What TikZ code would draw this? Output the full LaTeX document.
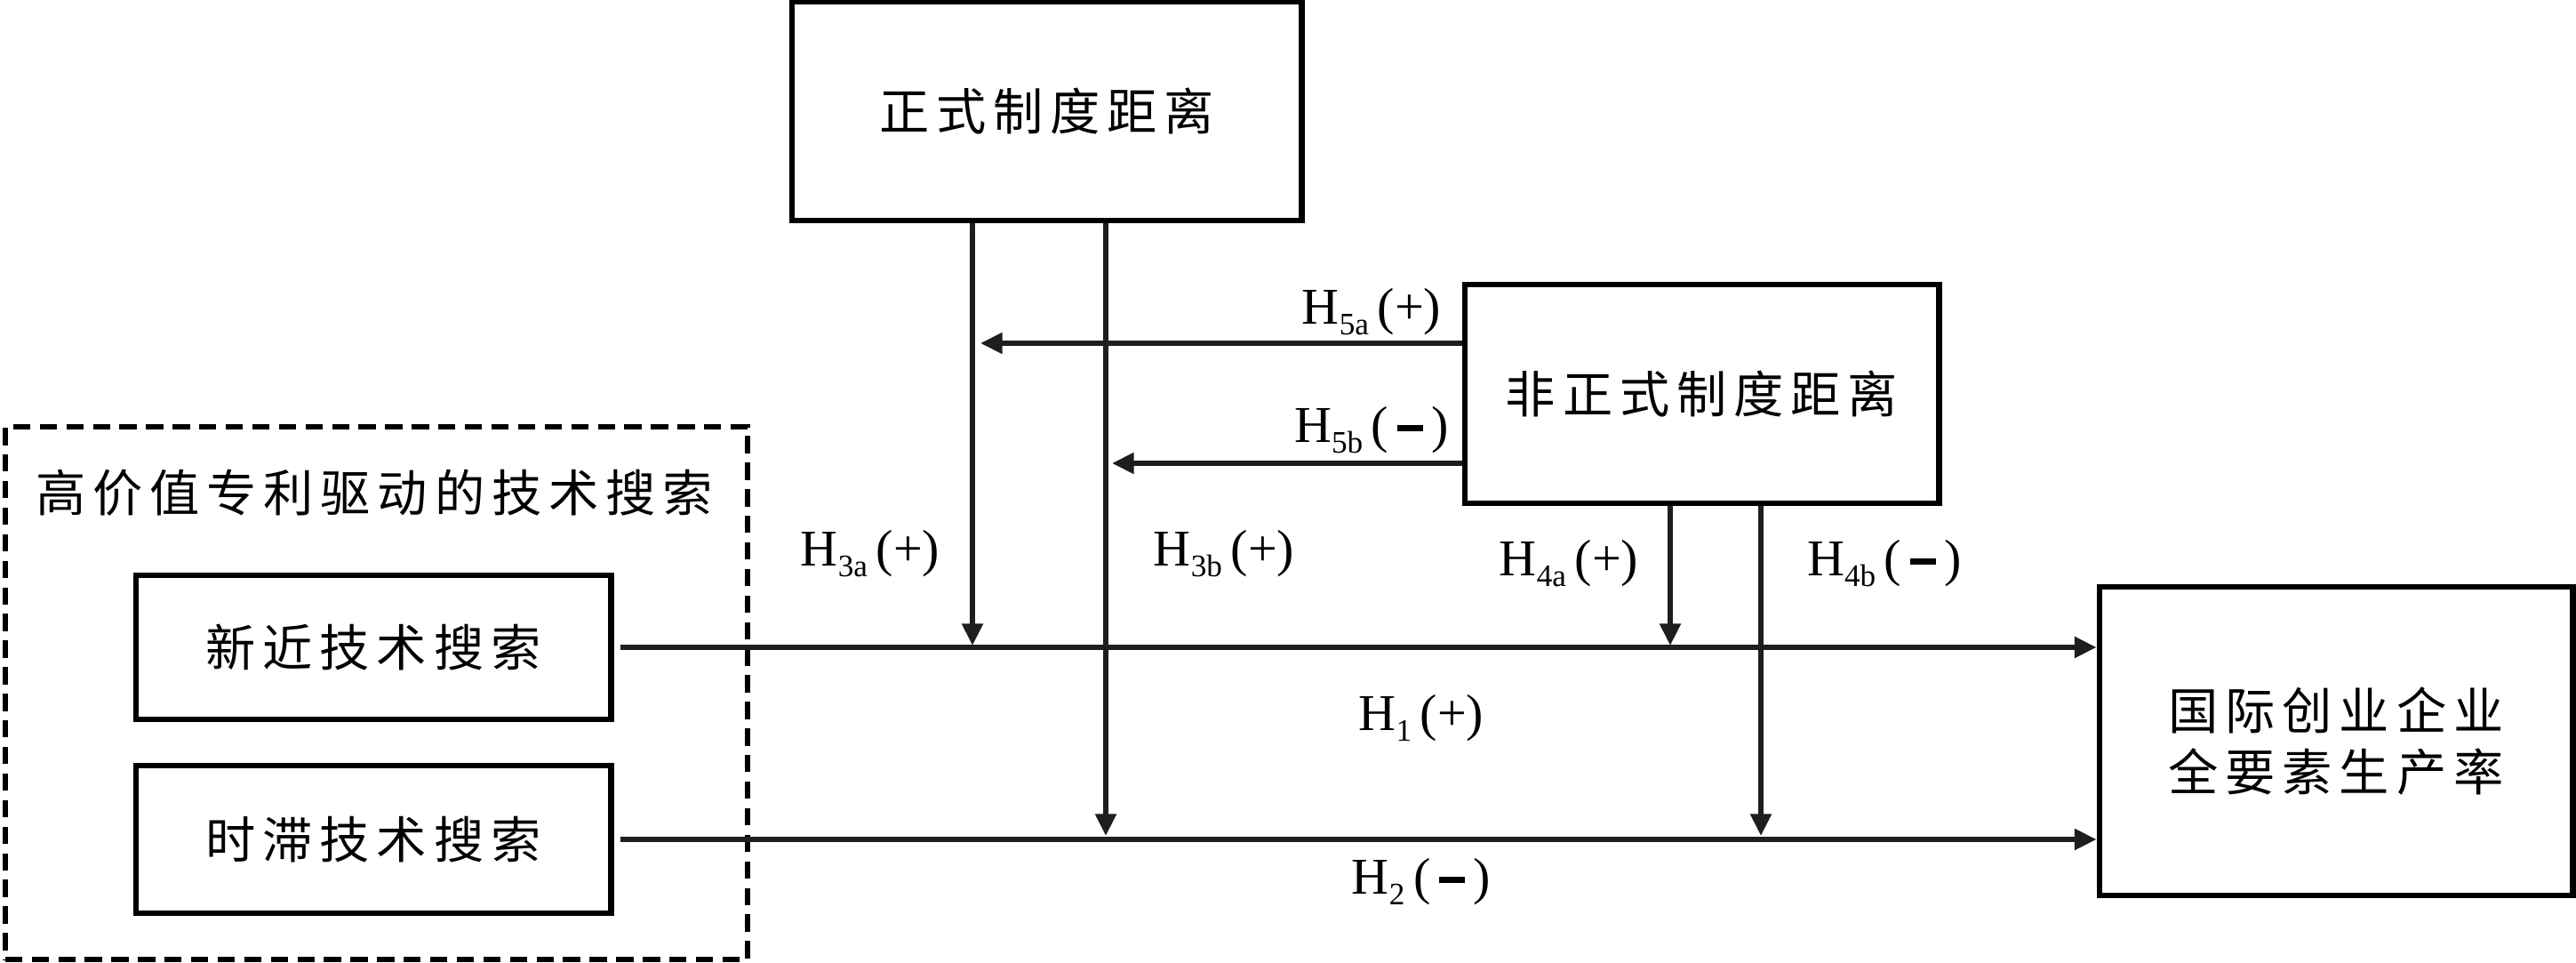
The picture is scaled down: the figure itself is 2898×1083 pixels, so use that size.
\documentclass[tikz,border=0pt]{standalone}
\usepackage{fontspec}
\setmainfont{Liberation Serif}
\newfontfamily\cjk[LetterSpace=14]{Noto Sans CJK SC}
\usetikzlibrary{arrows.meta}
\newcommand\hsub[1]{\raisebox{-0.45ex}{\fontsize{10}{10}\selectfont #1}}
\newcommand\hminus{\,\rule[0.23em]{0.5em}{0.11em}\,}
\begin{document}
\begin{tikzpicture}[x=0.01cm,y=-0.01cm,
  box/.style={draw=black,line width=1.9pt,inner sep=0pt,align=center,
    font=\cjk\fontsize{16}{19.4}\selectfont},
  arr/.style={line width=1.6pt,draw={rgb,255:red,30;green,30;blue,30},
    -{Triangle[length=7pt,width=6.5pt]}},
  lab/.style={inner sep=0pt,font=\fontsize{16.5}{19}\selectfont}]
\useasboundingbox (0,0) rectangle (2898,1083);
\fill[white] (0,0) rectangle (2898,1083);
% group
\node[draw,line width=1.7pt,dash pattern=on 5.5pt off 3pt,minimum width=8.35cm,minimum height=5.99cm] (group) at (423.5,779.5) {};
\node[inner sep=0pt,font=\cjk\fontsize{16}{19.4}\selectfont] (title) at (421,554) {高价值专利驱动的技术搜索};
% boxes
\node[box,minimum width=5.73cm,minimum height=2.46cm] (formal) at (1177.5,125) {正式制度距离};
\node[box,minimum width=5.33cm,minimum height=2.46cm] (informal) at (1914.5,443) {非正式制度距离};
\node[box,minimum width=5.34cm,minimum height=1.62cm] (recent) at (420,728) {新近技术搜索};
\node[box,minimum width=5.34cm,minimum height=1.66cm] (lag) at (420,944) {时滞技术搜索};
\node[box,minimum width=5.32cm,minimum height=3.47cm] (tfp) at (2628,833.5) {国际创业企业\\全要素生产率};
% main arrows
\draw[arr] ([xshift=2pt]recent.east) -- (recent.east -| tfp.west);
\draw[arr] ([xshift=2pt]lag.east) -- (lag.east -| tfp.west);
% moderating arrows
\coordinate (c3a) at (1094,726);
\coordinate (c3b) at (1244,940);
\coordinate (c4a) at (1879,726);
\coordinate (c4b) at (1981,940);
\coordinate (c5a) at (1103,386);
\coordinate (c5b) at (1251,521);
\draw[arr] (c3a |- formal.south) -- (c3a);
\draw[arr] (c3b |- formal.south) -- (c3b);
\draw[arr] (c4a |- informal.south) -- (c4a);
\draw[arr] (c4b |- informal.south) -- (c4b);
\draw[arr] (c5a -| informal.west) -- (c5a);
\draw[arr] (c5b -| informal.west) -- (c5b);
% labels
\node[lab] (l5a) at (1543,351) {H\hsub{5a}\,(+)};
\node[lab] (l5b) at (1543,484) {H\hsub{5b}\,(\hminus)};
\node[lab] (l3a) at (979,623) {H\hsub{3a}\,(+)};
\node[lab] (l3b) at (1377,623) {H\hsub{3b}\,(+)};
\node[lab] (l4a) at (1765,634) {H\hsub{4a}\,(+)};
\node[lab] (l4b) at (2120,634) {H\hsub{4b}\,(\hminus)};
\node[lab] (l1) at (1599,808) {H\hsub{1}\,(+)};
\node[lab] (l2) at (1599,992) {H\hsub{2}\,(\hminus)};
\end{tikzpicture}
\end{document}
